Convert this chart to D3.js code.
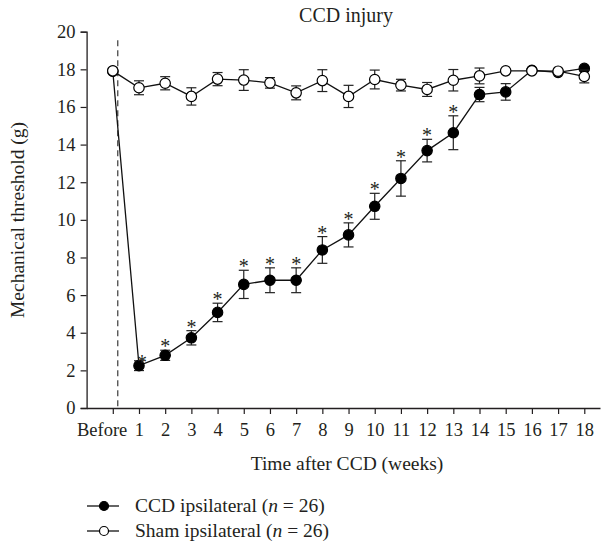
<!DOCTYPE html>
<html>
<head>
<meta charset="utf-8">
<script src="https://cdn.jsdelivr.net/npm/d3@7"></script>
<style>
  body { margin: 0; background: #fff; }
  text { font-family: "Liberation Serif", "Times New Roman", serif; fill: #231f20; }
</style>
</head>
<body>
<div id="container"></div>
<script>
const width = 608;
const height = 548;

// x categories: index 0 = Before, then weeks
const weekLabels = ["Before", "1", "2", "3", "4", "5", "6", "7", "8", "9", "10",
	"11", "12", "13", "14", "15", "16", "17", "18"];

// CCD ipsilateral (filled)
const ccdMean = [17.9, 2.25, 2.8, 3.73, 5.08, 6.57, 6.79, 6.79, 8.4, 9.2, 10.72,
	12.2, 13.68, 14.63, 16.66, 16.8, 17.95, 17.84, 18.05];
const ccdErr = [0.1, 0.26, 0.27, 0.38, 0.49, 0.75, 0.66, 0.66, 0.71, 0.64, 0.69,
	0.94, 0.6, 0.9, 0.38, 0.44, 0.08, 0.1, 0.08];
// significance stars: indexes (weeks 1..13)
const starIdx = [1, 2, 3, 4, 5, 6, 7, 8, 9, 10, 11, 12, 13];

// Sham ipsilateral (open)
const shamMean = [17.92, 17.02, 17.26, 16.56, 17.48, 17.43, 17.28, 16.75, 17.4, 16.56, 17.46,
	17.16, 16.93, 17.42, 17.65, 17.92, 17.92, 17.9, 17.62];
const shamErr = [0.15, 0.37, 0.35, 0.46, 0.35, 0.55, 0.28, 0.37, 0.58, 0.59, 0.5,
	0.31, 0.37, 0.57, 0.42, 0.08, 0.06, 0.1, 0.34];

const yTicks = [0, 2, 4, 6, 8, 10, 12, 14, 16, 18, 20];

const svg = d3.select("#container")
	.append("svg")
	.attr("width", width)
	.attr("height", height);

const x = d3.scaleLinear().domain([-1, 18.6]).range([86.6, 600]);
const y = d3.scaleLinear().domain([0, 20]).range([408, 31.7]);

const ink = "#231f20";

// y axis
const yAxis = svg.append("g")
	.attr("transform", "translate(" + x(-1) + ",0)")
	.call(d3.axisLeft(y).tickValues(yTicks).tickSize(6).tickPadding(5));
yAxis.select(".domain").attr("stroke", ink).attr("stroke-width", 1.3);
yAxis.selectAll(".tick line").attr("stroke", ink).attr("stroke-width", 1.2);
yAxis.selectAll(".tick text")
	.attr("fill", ink)
	.style("font-size", "18.5px")
	.style("font-family", "Liberation Serif, serif");

// x axis
const xAxis = svg.append("g")
	.attr("transform", "translate(0," + y(0) + ")")
	.call(d3.axisBottom(x)
		.tickValues(d3.range(weekLabels.length))
		.tickFormat(i => weekLabels[i])
		.tickSizeInner(6)
		.tickSizeOuter(0)
		.tickPadding(9));
xAxis.select(".domain").attr("stroke", ink).attr("stroke-width", 1.3);
xAxis.selectAll(".tick line").attr("stroke", ink).attr("stroke-width", 1.2);
xAxis.selectAll(".tick text")
	.attr("fill", ink)
	.style("font-size", "18.5px")
	.style("font-family", "Liberation Serif, serif");
// "Before" sits left of its tick so it does not run into "1"
xAxis.selectAll(".tick text")
	.filter(i => i === 0)
	.attr("text-anchor", "end")
	.attr("dx", 14);

// dashed injury line
svg.append("line")
	.attr("x1", x(0.19)).attr("x2", x(0.19))
	.attr("y1", y(19.55)).attr("y2", y(0))
	.attr("stroke", "#3a3a3a")
	.attr("stroke-width", 1.2)
	.attr("stroke-dasharray", "6,4");

// title & labels
svg.append("text")
	.attr("x", 346).attr("y", 22)
	.attr("text-anchor", "middle")
	.style("font-size", "20px")
	.text("CCD injury");

svg.append("text")
	.attr("x", 347).attr("y", 470)
	.attr("text-anchor", "middle")
	.style("font-size", "19.5px")
	.text("Time after CCD (weeks)");

svg.append("text")
	.attr("transform", "translate(24,220) rotate(-90)")
	.attr("text-anchor", "middle")
	.style("font-size", "19.5px")
	.text("Mechanical threshold (g)");

const line = d3.line().x((d, i) => x(i)).y(d => y(d));

function drawSeries(mean, err, filled) {
	const g = svg.append("g");
	g.append("path")
		.datum(mean)
		.attr("d", line)
		.attr("fill", "none")
		.attr("stroke", "#111")
		.attr("stroke-width", 1.3);
	const bars = g.selectAll(".eb")
		.data(mean)
		.enter()
		.append("g");
	bars.append("line")
		.attr("x1", (d, i) => x(i)).attr("x2", (d, i) => x(i))
		.attr("y1", (d, i) => y(d + err[i])).attr("y2", (d, i) => y(d - err[i]))
		.attr("stroke", "#222").attr("stroke-width", 1.2);
	[1, -1].forEach(s => {
		bars.append("line")
			.attr("x1", (d, i) => x(i) - 5).attr("x2", (d, i) => x(i) + 5)
			.attr("y1", (d, i) => y(d + s * err[i])).attr("y2", (d, i) => y(d + s * err[i]))
			.attr("stroke", "#222").attr("stroke-width", 1.2);
	});
	g.selectAll("circle")
		.data(mean)
		.enter()
		.append("circle")
		.attr("cx", (d, i) => x(i))
		.attr("cy", d => y(d))
		.attr("r", 5.2)
		.attr("fill", filled ? "#000" : "#fff")
		.attr("stroke", "#000")
		.attr("stroke-width", 1.2);
}

drawSeries(ccdMean, ccdErr, true);
drawSeries(shamMean, shamErr, false);

// stars above the CCD error bars
svg.selectAll(".star")
	.data(starIdx)
	.enter()
	.append("text")
	.attr("class", "star")
	.attr("x", i => x(i) + (i === 1 ? 3 : 0))
	.attr("y", i => y(ccdMean[i] + ccdErr[i]) + (i === 1 ? 8.5 : 3))
	.attr("text-anchor", "middle")
	.attr("fill", ink)
	.style("font-size", "20px")
	.text("*");

// legend
const legendItems = [
	{ label: "CCD ipsilateral", filled: true },
	{ label: "Sham ipsilateral", filled: false }
];
const lg = svg.selectAll(".legend")
	.data(legendItems)
	.enter()
	.append("g")
	.attr("transform", (d, i) => "translate(0," + (506 + i * 25) + ")");
lg.append("line")
	.attr("x1", 87).attr("x2", 119)
	.attr("stroke", "#111").attr("stroke-width", 1.3);
lg.append("circle")
	.attr("cx", 104).attr("r", 4.5)
	.attr("fill", d => d.filled ? "#000" : "#fff")
	.attr("stroke", "#000").attr("stroke-width", 1.2);
const lt = lg.append("text")
	.attr("x", 135).attr("y", 6)
	.style("font-size", "19.5px");
lt.append("tspan").text(d => d.label + " (");
lt.append("tspan").style("font-style", "italic").text("n");
lt.append("tspan").text(" = 26)");
</script>
</body>
</html>
